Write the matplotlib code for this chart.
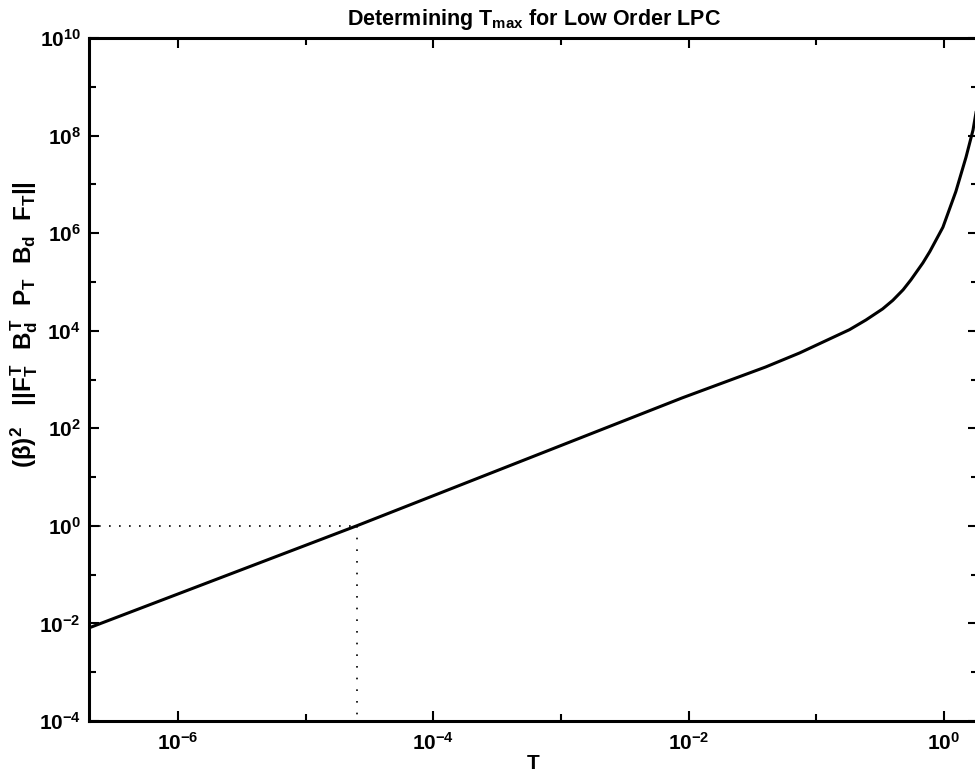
import numpy as np
import matplotlib
matplotlib.use("Agg")
import matplotlib.pyplot as plt
from matplotlib.ticker import FixedLocator, NullFormatter

plt.rcParams['font.family'] = ['Liberation Sans', 'DejaVu Sans']
plt.rcParams['font.weight'] = 'bold'
plt.rcParams['mathtext.fontset'] = 'custom'
plt.rcParams['mathtext.rm'] = 'Liberation Sans:bold'
plt.rcParams['mathtext.it'] = 'Liberation Sans:bold'
plt.rcParams['mathtext.bf'] = 'Liberation Sans:bold'

# curve (T, value)
T_vals = [2.0e-7, 2.5e-5, 8.9e-3, 4.0e-2, 7.4e-2, 0.182, 0.245, 0.331,
          0.398, 0.479, 0.551, 0.684, 0.776, 0.982, 1.24, 1.49, 1.69, 1.82]
Y_vals = [8.1e-3, 1.0, 4.2e2, 1.8e3, 3.5e3, 1.05e4, 1.66e4, 2.8e4,
          4.2e4, 6.9e4, 1.1e5, 2.45e5, 4.2e5, 1.32e6, 7.1e6, 3.6e7, 1.29e8, 4.0e8]

# T_max marker (value 1)
T_max = 2.5e-5
x_lim = (2.0e-7, 1.85)
y_lim = (1e-4, 1e10)

x_major = [1e-6, 1e-4, 1e-2, 1e0]
x_minor = [1e-5, 1e-3, 1e-1]
y_major = [1e-4, 1e-2, 1e0, 1e2, 1e4, 1e6, 1e8, 1e10]
y_minor = [1e-3, 1e-1, 1e1, 1e3, 1e5, 1e7, 1e9]

fig = plt.figure(figsize=(9.75, 7.75), dpi=100)
ax = fig.add_axes([89 / 975, 1 - 721 / 775, (978 - 89) / 975, (721 - 38) / 775])

ax.loglog(T_vals, Y_vals, color='black', linewidth=2.2)
ax.plot([x_lim[0], T_max], [1, 1], color='black', linestyle=(0, (1, 5)), linewidth=1.2)
ax.plot([T_max, T_max], [1, y_lim[0]], color='black', linestyle=(0, (1, 6)), linewidth=1.2)

ax.set_xlim(*x_lim)
ax.set_ylim(*y_lim)

ax.xaxis.set_major_locator(FixedLocator(x_major))
ax.xaxis.set_minor_locator(FixedLocator(x_minor))
ax.yaxis.set_major_locator(FixedLocator(y_major))
ax.yaxis.set_minor_locator(FixedLocator(y_minor))
ax.xaxis.set_minor_formatter(NullFormatter())
ax.yaxis.set_minor_formatter(NullFormatter())
ax.tick_params(which='both', direction='in', top=True, right=True, labelsize=15)
ax.tick_params(axis='x', which='both', pad=8)
ax.tick_params(axis='y', which='both', pad=6)
ax.tick_params(which='major', length=7, width=1.5)
ax.tick_params(which='minor', length=5, width=1.5)
for s in ax.spines.values():
    s.set_linewidth(2.2)

ax.set_title(r'Determining T$_{\rm max}$ for Low Order LPC', fontsize=15.5, fontweight='bold', pad=9)
ax.set_xlabel('T', fontsize=15, fontweight='bold', labelpad=0)
ax.set_ylabel(r'$(\beta)^2\ \ \ ||F_T^T\ \ B_d^T\ \ P_T\ \ B_d\ \ F_T||$', fontsize=17.5)
ax.yaxis.set_label_coords(-0.055, 0.58)

fig.savefig('out.png', dpi=100)
